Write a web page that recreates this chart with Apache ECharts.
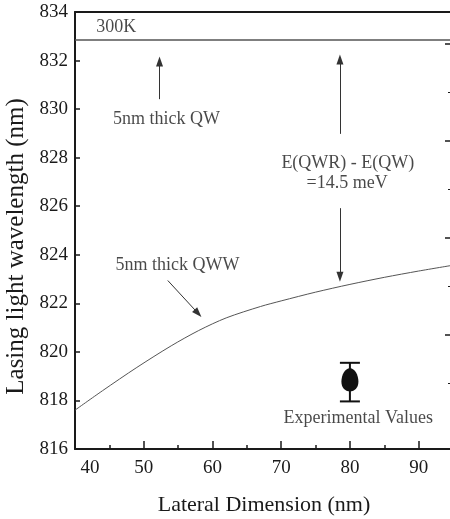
<!DOCTYPE html>
<html><head><meta charset="utf-8">
<script src="https://cdn.jsdelivr.net/npm/echarts@6/dist/echarts.min.js"></script>
<style>html,body{margin:0;padding:0;background:#fff}#c{width:450px;height:519px}</style>
</head><body><div id="c"></div>
<script>
// ---- data ----
const qwwX = [40, 44, 49, 54, 58, 62, 67, 70, 75, 80, 85, 90, 95];
const qwwY = [817.6, 818.4, 819.36, 820.25, 820.88, 821.4, 821.87, 822.1, 822.46, 822.78, 823.07, 823.33, 823.57];
const qwX = [40, 95];
const qwY = [832.85, 832.85];
const expX = [80];
const expY = [818.85];
const expLow = [817.96];
const expHigh = [819.55];
const rightMajor = [832.7, 828.7, 824.7, 820.7];
const rightMinor = [830.7, 826.7, 822.7, 818.7];
const noteText = ['300K', '5nm thick QW', 'E(QWR) - E(QW)', '=14.5 meV', '5nm thick QWW', 'Experimental Values'];
const noteX = [46.0, 53.3, 79.7, 79.6, 54.9, 81.2];
const noteY = [833.39, 829.59, 827.76, 826.94, 823.55, 817.27];
const arrowX1 = [52.3, 78.55, 78.55, 53.5];
const arrowY1 = [830.41, 828.98, 825.92, 822.94];
const arrowX2 = [52.3, 78.55, 78.55, 57.9];
const arrowY2 = [831.96, 832.04, 823.1, 821.59];

const FONT = 'Liberation Serif';
const INK = '#1a1a1a';
const chart = echarts.init(document.getElementById('c'), null, {renderer: 'canvas'});

const option = {
  animation: false,
  backgroundColor: '#fff',
  grid: {left: 75, right: -3, top: 12, bottom: 70, outerBoundsMode: 'none', containLabel: false},
  xAxis: [{
    type: 'value', min: 40, max: 95, interval: 10,
    name: 'Lateral Dimension (nm)', nameLocation: 'middle', nameGap: 45,
    nameTextStyle: {fontFamily: FONT, fontSize: 22, color: INK},
    axisLine: {show: true, lineStyle: {color: INK, width: 2}},
    axisTick: {show: true, inside: true, length: 8, lineStyle: {color: INK, width: 1.5}},
    minorTick: {show: true, splitNumber: 2, length: 4, lineStyle: {color: INK, width: 1.5}},
    axisLabel: {
      fontFamily: FONT, fontSize: 19, color: INK, margin: 10, showMaxLabel: false,
      formatter: v => v === 40 ? '{f|40}' : String(v),
      rich: {f: {fontFamily: FONT, fontSize: 19, color: INK, padding: [0, 0, 0, 30]}}
    },
    splitLine: {show: false}, minorSplitLine: {show: false}
  }, {
    type: 'value', position: 'top', min: 40, max: 95,
    axisLine: {show: true, lineStyle: {color: INK, width: 2}},
    axisTick: {show: false}, axisLabel: {show: false}, splitLine: {show: false}
  }],
  yAxis: [{
    type: 'value', min: 816, max: 834, interval: 2,
    name: 'Lasing light wavelength (nm)', nameLocation: 'middle', nameGap: 46, nameRotate: 90,
    nameTextStyle: {fontFamily: FONT, fontSize: 25, color: INK, padding: [0, 32, 0, 0]},
    axisLine: {show: true, lineStyle: {color: INK, width: 2}},
    axisTick: {show: true, inside: true, length: 5, lineStyle: {color: INK, width: 1.5}},
    axisLabel: {fontFamily: FONT, fontSize: 19, color: INK, margin: 7},
    splitLine: {show: false}
  }, {
    type: 'value', position: 'right', min: 816, max: 834,
    axisLine: {show: false},
    axisTick: {show: true, inside: true, length: 8, customValues: rightMajor, lineStyle: {color: INK, width: 1.5}},
    axisLabel: {show: false}, splitLine: {show: false}
  }, {
    type: 'value', position: 'right', min: 816, max: 834,
    axisLine: {show: false},
    axisTick: {show: true, inside: true, length: 5, customValues: rightMinor, lineStyle: {color: INK, width: 1}},
    axisLabel: {show: false}, splitLine: {show: false}
  }],
  series: [
    {
      type: 'line', name: 'QWW', data: qwwX.map((x, i) => [x, qwwY[i]]),
      smooth: 0.3, showSymbol: false, symbol: 'none',
      lineStyle: {color: '#555', width: 1}
    },
    {
      type: 'line', name: 'QW', data: qwX.map((x, i) => [x, qwY[i]]),
      showSymbol: false, symbol: 'none',
      lineStyle: {color: '#555', width: 1.5},
      markLine: {
        silent: true, symbol: ['none', 'triangle'], symbolSize: [7, 10],
        label: {show: false},
        lineStyle: {color: '#333', width: 1, type: 'solid'},
        data: arrowX1.map((x, i) => [{coord: [x, arrowY1[i]]}, {coord: [arrowX2[i], arrowY2[i]]}])
      }
    },
    {
      type: 'custom', name: 'errorbar',
      data: expX.map((x, i) => [x, expLow[i], expHigh[i]]),
      renderItem: (params, api) => {
        const x = api.value(0);
        const lo = api.coord([x, api.value(1)]);
        const hi = api.coord([x, api.value(2)]);
        const w = 10;
        const st = {stroke: '#111', lineWidth: 2};
        return {type: 'group', children: [
          {type: 'line', shape: {x1: lo[0], y1: lo[1], x2: hi[0], y2: hi[1]}, style: st},
          {type: 'line', shape: {x1: lo[0] - w, y1: lo[1], x2: lo[0] + w, y2: lo[1]}, style: st},
          {type: 'line', shape: {x1: hi[0] - w, y1: hi[1], x2: hi[0] + w, y2: hi[1]}, style: st}
        ]};
      }
    },
    {
      type: 'scatter', name: 'Experimental',
      data: expX.map((x, i) => [x, expY[i]]),
      symbol: 'path://M0,-12 C5,-12 8.5,-5 8.5,2 C8.5,8 5,12 0,12 C-5,12 -8.5,8 -8.5,2 C-8.5,-5 -5,-12 0,-12 Z',
      symbolSize: [17, 23],
      itemStyle: {color: '#111', opacity: 1}
    },
    {
      type: 'scatter', name: 'notes', silent: true,
      data: noteText.map((t, i) => ({value: [noteX[i], noteY[i]], text: t})),
      symbolSize: 0,
      label: {
        show: true, position: 'inside', formatter: p => p.data.text,
        fontFamily: FONT, fontSize: 18, color: INK
      }
    }
  ]
};
chart.setOption(option);
</script></body></html>
